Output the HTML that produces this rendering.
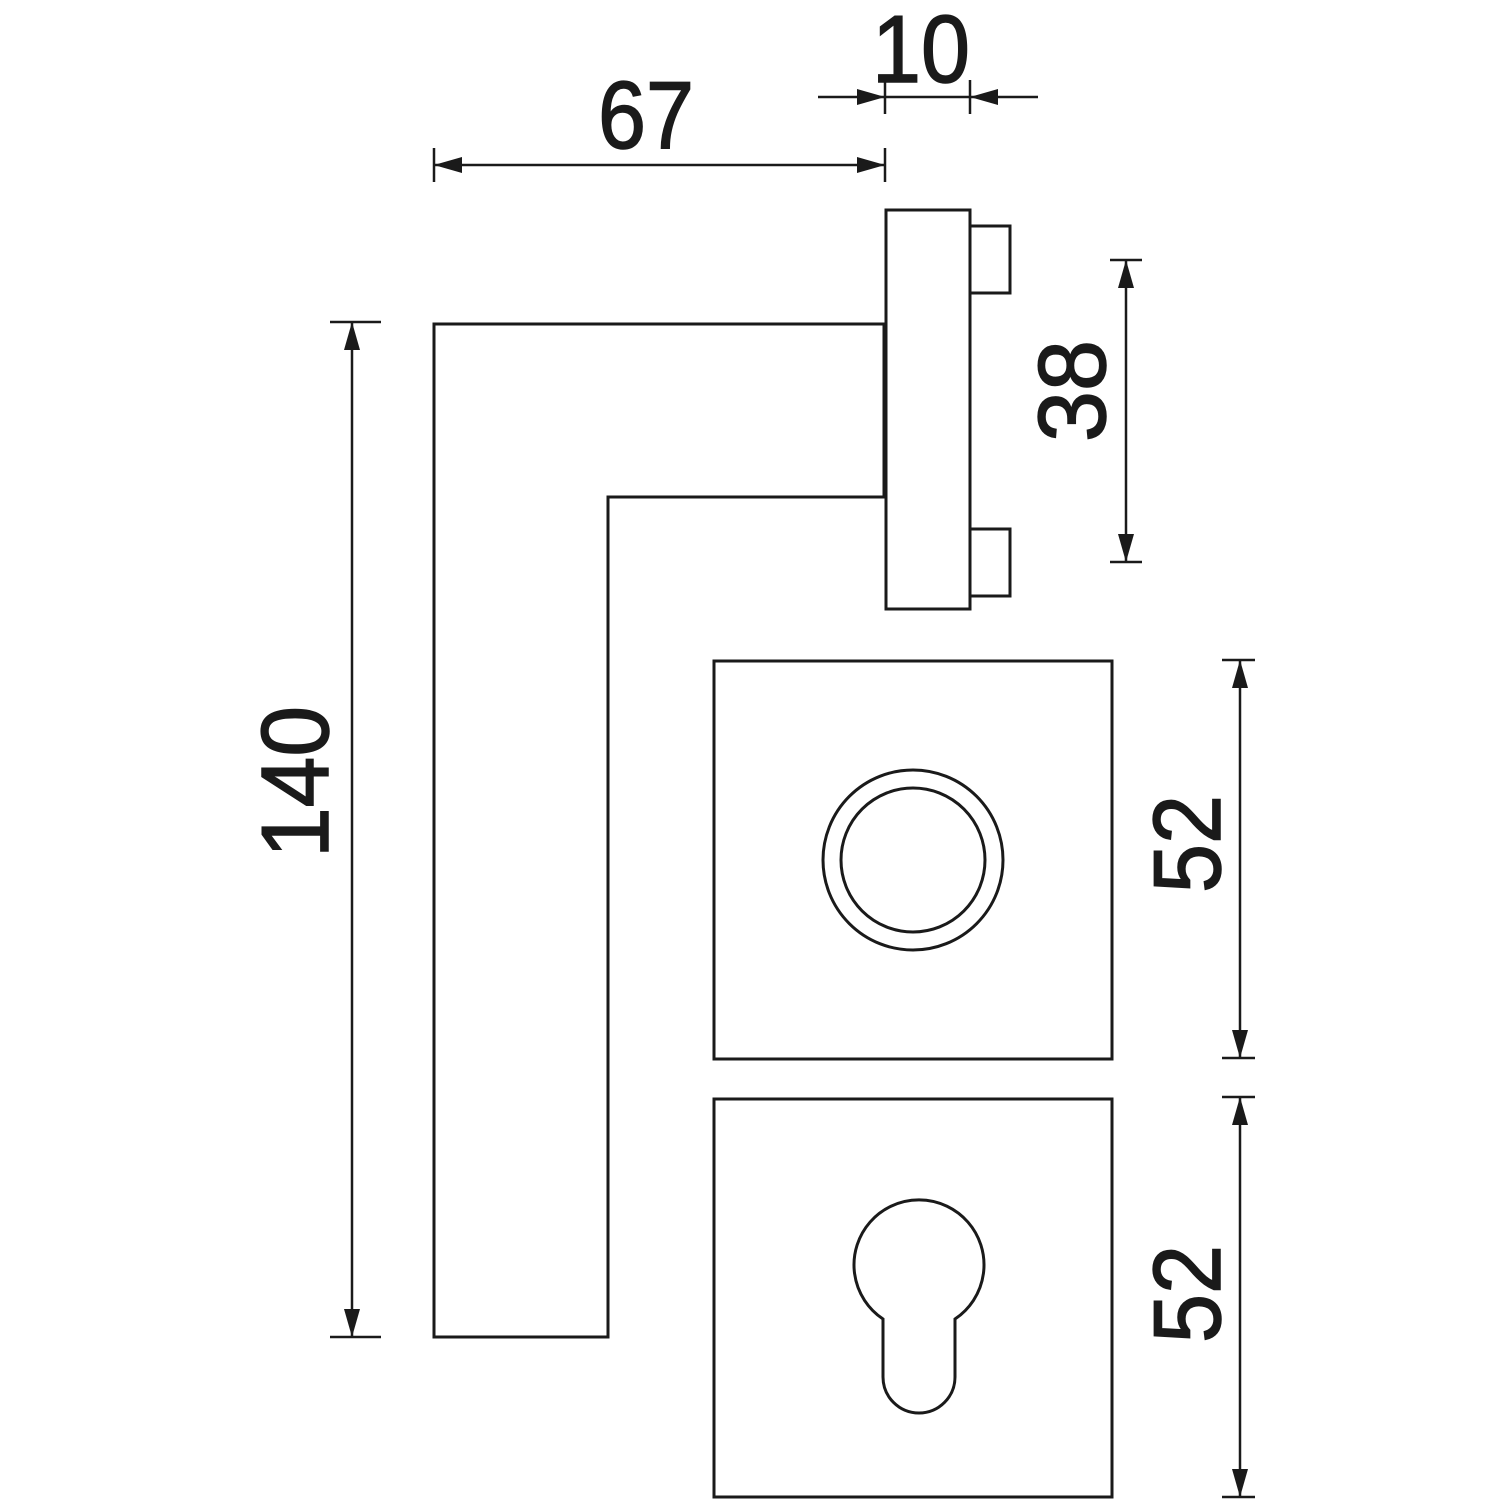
<!DOCTYPE html>
<html><head><meta charset="utf-8"><style>html,body{margin:0;padding:0;background:#fff}svg{display:block}</style></head>
<body>
<svg width="1500" height="1500" viewBox="0 0 1500 1500" xmlns="http://www.w3.org/2000/svg">
<defs>
<marker id="a" viewBox="0 0 28 16" refX="28" refY="8" markerWidth="28" markerHeight="16" markerUnits="userSpaceOnUse" orient="auto-start-reverse"><path d="M0,0 L28,8 L0,16 Z" fill="#1a1a1a"/></marker>
</defs>
<g fill="none" stroke="#1a1a1a" stroke-width="3">
<polygon points="434,324 884,324 884,497 608,497 608,1337 434,1337"/>
<rect x="886" y="210" width="84" height="399"/>
<rect x="970" y="226" width="40" height="67"/>
<rect x="970" y="529" width="40" height="67"/>
<rect x="714" y="661" width="398" height="398"/>
<circle cx="913" cy="860" r="90"/>
<circle cx="913" cy="860" r="72"/>
<rect x="714" y="1099" width="398" height="398"/>
<path d="M883,1319 A65,65 0 1 1 955,1319 L955,1377 A36,36 0 0 1 883,1377 Z"/>
</g>
<g stroke="#1a1a1a" stroke-width="2.5" fill="none">
<line x1="434" y1="148" x2="434" y2="182"/>
<line x1="885" y1="148" x2="885" y2="182"/>
<line x1="434" y1="165" x2="885" y2="165" marker-start="url(#a)" marker-end="url(#a)"/>
<line x1="885" y1="80" x2="885" y2="114"/>
<line x1="970" y1="80" x2="970" y2="114"/>
<line x1="885" y1="97" x2="970" y2="97"/>
<line x1="818" y1="97" x2="885" y2="97" marker-end="url(#a)"/>
<line x1="1038" y1="97" x2="970" y2="97" marker-end="url(#a)"/>
<line x1="330" y1="322" x2="381" y2="322"/>
<line x1="330" y1="1337" x2="381" y2="1337"/>
<line x1="352" y1="322" x2="352" y2="1337" marker-start="url(#a)" marker-end="url(#a)"/>
<line x1="1110" y1="260" x2="1142" y2="260"/>
<line x1="1110" y1="562" x2="1142" y2="562"/>
<line x1="1126" y1="260" x2="1126" y2="562" marker-start="url(#a)" marker-end="url(#a)"/>
<line x1="1222" y1="660" x2="1255" y2="660"/>
<line x1="1222" y1="1058" x2="1255" y2="1058"/>
<line x1="1240" y1="660" x2="1240" y2="1058" marker-start="url(#a)" marker-end="url(#a)"/>
<line x1="1222" y1="1097" x2="1255" y2="1097"/>
<line x1="1222" y1="1497" x2="1255" y2="1497"/>
<line x1="1240" y1="1097" x2="1240" y2="1497" marker-start="url(#a)" marker-end="url(#a)"/>
</g>
<g font-family="Liberation Sans, sans-serif" font-size="96" fill="#1a1a1a" stroke="#1a1a1a" stroke-width="1.5" text-anchor="middle">
<text x="646" y="148" textLength="96" lengthAdjust="spacingAndGlyphs">67</text>
<text x="921" y="82" textLength="98" lengthAdjust="spacingAndGlyphs">10</text>
<text transform="translate(328,782) rotate(-90)" textLength="152" lengthAdjust="spacingAndGlyphs">140</text>
<text transform="translate(1105,391) rotate(-90)" textLength="102" lengthAdjust="spacingAndGlyphs">38</text>
<text transform="translate(1220,844) rotate(-90)" textLength="98" lengthAdjust="spacingAndGlyphs">52</text>
<text transform="translate(1220,1294) rotate(-90)" textLength="98" lengthAdjust="spacingAndGlyphs">52</text>
</g>
</svg>
</body></html>
